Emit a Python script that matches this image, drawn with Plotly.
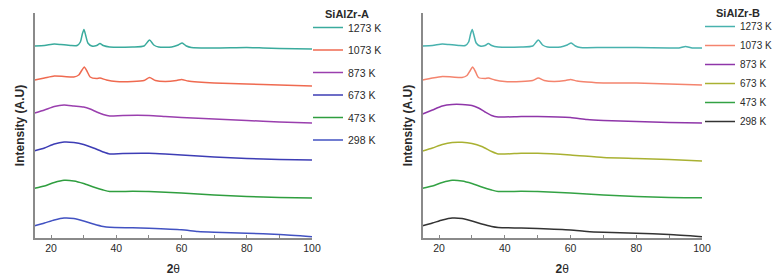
import plotly.graph_objects as go

# ---------------- data (two-theta in degrees, intensity in arbitrary offset units) -------------
labels = ["1273 K", "1073 K", "873 K", "673 K", "473 K", "298 K"]

# Panel A
a1273_x = [15, 18, 21, 23, 26, 28, 29, 29.6, 30.1, 30.6, 31.3, 32.5, 34, 35, 36, 38, 45, 48.5, 50.2, 51.5, 53, 57, 59, 60.2, 61.5, 63, 70, 80, 85, 90, 100]
a1273_y = [192, 192.5, 194, 193.5, 192.5, 192.5, 196, 204, 208.5, 203, 195, 192, 192.5, 194.5, 192.5, 191, 191, 192, 198, 193, 191, 191, 193, 195, 192, 190.5, 190, 190.5, 190, 189.5, 189]
a1073_x = [15, 18, 21, 24, 27, 28.5, 29.5, 30.2, 31, 32, 34, 35, 37, 40, 45, 48.5, 50.2, 52, 55, 58.5, 60, 62, 65, 70, 80, 90, 100]
a1073_y = [158, 160, 162, 161.5, 161, 163, 168, 171, 167, 161, 159.5, 160, 158, 156.5, 156.5, 157.5, 160.5, 157.5, 156.5, 157.5, 158.5, 157, 156, 155, 154, 153, 152]
a873_x = [15, 18, 21, 24, 27, 30, 32, 34, 36, 38, 42, 50, 55, 60, 70, 80, 90, 100]
a873_y = [125, 128, 131.5, 133, 132, 131, 129, 126, 123.5, 122, 122.5, 122.5, 121.5, 120.5, 119, 117.5, 116, 115]
a673_x = [15, 18, 21, 24, 27, 30, 33, 36, 38, 42, 50, 55, 60, 70, 80, 90, 100]
a673_y = [87.3, 90, 94, 96, 95.5, 93.5, 90, 86, 84, 84.5, 84.7, 84, 83, 81, 79.5, 78.5, 78]
a473_x = [15, 18, 21, 24, 27, 30, 33, 36, 38, 45, 50, 60, 70, 80, 90, 100]
a473_y = [49.7, 52, 55.5, 57.7, 57, 54.5, 51, 48, 46.5, 46.7, 46.5, 45, 43, 41.5, 40.5, 40]
a298_x = [15, 18, 21, 24, 27, 30, 33, 36, 38, 45, 50, 60, 65, 70, 80, 90, 100]
a298_y = [12.3, 15, 18, 20, 19.5, 17, 14, 11.5, 10.7, 10.2, 9.7, 8.2, 6.5, 5.7, 4.7, 3.5, 1.3]

# Panel B
b1273_x = [15, 18, 21, 23, 26, 28, 29, 29.6, 30.1, 30.6, 31.3, 32.5, 34, 35, 36, 38, 45, 48.5, 50.2, 51.5, 53, 57, 59, 60.2, 61.5, 63, 70, 80, 90, 93, 95, 97, 100]
b1273_y = [192, 192.5, 194, 193.5, 192.5, 192.5, 196, 204, 208.5, 203, 195, 192, 192.5, 194.5, 192.5, 191, 191, 192, 198, 193, 191, 191, 193, 195, 192, 190.5, 190.5, 190.5, 190, 190, 191.5, 190, 190]
b1073_x = [15, 18, 21, 24, 27, 28.5, 29.5, 30.2, 31, 32, 34, 35, 37, 40, 45, 48.5, 50.2, 52, 55, 58.5, 60, 62, 65, 70, 80, 90, 100]
b1073_y = [158, 160, 161.5, 161, 160.5, 162.5, 167.5, 171, 167, 160.5, 159.5, 160, 158, 156.5, 156.5, 157.5, 160, 157.5, 156.5, 157.5, 158.5, 157, 156, 155, 155, 154, 153]
b873_x = [15, 18, 21, 24, 27, 30, 32, 34, 36, 38, 45, 50, 60, 65, 70, 80, 90, 100]
b873_y = [124, 128, 132, 133.5, 133.5, 132.5, 130, 126, 122.5, 121, 121.5, 121.5, 120.5, 118.5, 117.5, 116.5, 115.5, 115]
b673_x = [15, 18, 21, 24, 27, 30, 33, 36, 38, 45, 50, 60, 70, 80, 90, 100]
b673_y = [87, 90, 93.5, 95.5, 95.7, 94.5, 91.5, 86.5, 84, 84.7, 84.7, 83, 80.5, 79.5, 78.5, 77]
b473_x = [15, 18, 21, 24, 27, 30, 33, 36, 38, 45, 50, 60, 70, 80, 90, 100]
b473_y = [49.7, 52, 55.5, 57.7, 57, 54.5, 51, 48, 46.5, 46.7, 46.5, 45, 43, 41.5, 40.5, 40.3]
b298_x = [15, 18, 21, 24, 27, 30, 33, 36, 38, 45, 50, 60, 65, 70, 80, 90, 100]
b298_y = [12.3, 15, 18, 20, 19.5, 17, 14, 11.5, 10.5, 10, 9.5, 8, 6.5, 5.7, 4.7, 3.5, 1.3]

colors_a = ["#3aab9d", "#ef6a50", "#9a3fae", "#3d3db5", "#2f9e3f", "#4252c2"]
colors_b = ["#48b2ae", "#f4846e", "#8f36a9", "#a9b132", "#33a244", "#333333"]

series_a = [(a1273_x, a1273_y), (a1073_x, a1073_y), (a873_x, a873_y),
            (a673_x, a673_y), (a473_x, a473_y), (a298_x, a298_y)]
series_b = [(b1273_x, b1273_y), (b1073_x, b1073_y), (b873_x, b873_y),
            (b673_x, b673_y), (b473_x, b473_y), (b298_x, b298_y)]

FONT = "Liberation Sans, Arial, sans-serif"
TXT = "#2a2a2a"
W, H = 784, 280

fig = go.Figure()
for i, (lab, (xs, ys)) in enumerate(zip(labels, series_a)):
    fig.add_trace(go.Scatter(x=xs, y=ys, mode="lines", name=lab,
                             line=dict(color=colors_a[i], width=1.5, shape="spline", smoothing=0.6),
                             xaxis="x", yaxis="y", legend="legend", legendgroup="a" + lab))
for i, (lab, (xs, ys)) in enumerate(zip(labels, series_b)):
    fig.add_trace(go.Scatter(x=xs, y=ys, mode="lines", name=lab,
                             line=dict(color=colors_b[i], width=1.5, shape="spline", smoothing=0.6),
                             xaxis="x2", yaxis="y2", legend="legend2", legendgroup="b" + lab))

xax = dict(range=[15, 100], tick0=20, dtick=20, ticks="inside", ticklen=3, tickcolor="#888",
           minor=dict(ticks="inside", dtick=10, ticklen=3, tickcolor="#888"),
           showline=True, linecolor="#8a8a8a", linewidth=1.5, showgrid=False, zeroline=False,
           tickfont=dict(size=10.5, color=TXT, family=FONT),
           title=dict(text="<b>2</b>θ", font=dict(size=12, color=TXT, family=FONT), standoff=11),
           automargin=False)
yax = dict(range=[0, 225], showline=True, linecolor="#8a8a8a", linewidth=1.5, showgrid=False,
           zeroline=False, showticklabels=False, ticks="",
           title=dict(text="<b>Intensity (A.U)</b>", font=dict(size=12, color=TXT, family=FONT), standoff=6),
           automargin=False)

leg = dict(x=308 / W, y=1 - 13 / H, xanchor="left", yanchor="top",
           font=dict(size=10.5, color=TXT, family=FONT), bgcolor="rgba(0,0,0,0)",
           tracegroupgap=3.5, itemwidth=30)
leg2 = dict(leg)
leg2.update(x=700 / W, y=1 - 12 / H, tracegroupgap=0, font=dict(size=10, color=TXT, family=FONT))

titles = [
    dict(text="<b>SiAlZr-A</b>", x=323 / W, y=1 - 14 / H),
    dict(text="<b>SiAlZr-B</b>", x=714 / W, y=1 - 13 / H),
]
annotations = [dict(text=t["text"], x=t["x"], y=t["y"], xref="paper", yref="paper",
                    xanchor="left", yanchor="middle", showarrow=False,
                    font=dict(size=11, color=TXT, family=FONT)) for t in titles]

fig.update_layout(
    width=W, height=H,
    margin=dict(l=0, r=0, t=0, b=0),
    paper_bgcolor="white", plot_bgcolor="white",
    font=dict(family=FONT, color=TXT),
    xaxis=dict(xax, domain=[34.7 / W, 312 / W], anchor="y"),
    yaxis=dict(yax, domain=[1 - 238 / H, 1 - 13 / H], anchor="x"),
    xaxis2=dict(xax, domain=[422.6 / W, 702 / W], anchor="y2"),
    yaxis2=dict(yax, domain=[1 - 238 / H, 1 - 13 / H], anchor="x2"),
    legend=leg, legend2=leg2,
    annotations=annotations,
    showlegend=True,
)

fig.write_html("out.html", config={"displayModeBar": False},
               post_script="document.body.style.margin='0px';")
